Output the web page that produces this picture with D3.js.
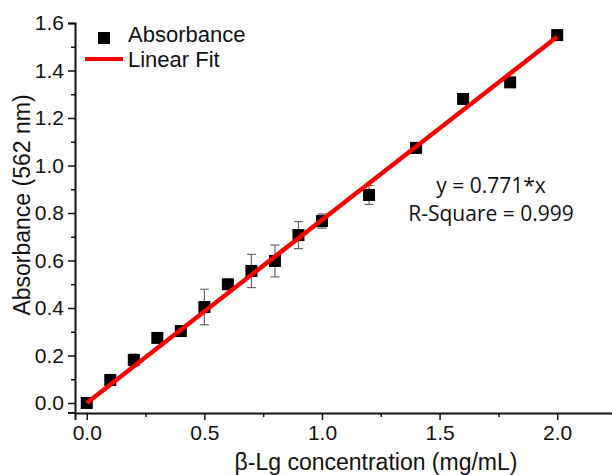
<!DOCTYPE html>
<html>
<head>
<meta charset="utf-8">
<script src="https://cdn.jsdelivr.net/npm/d3@7"></script>
<style>
  body { margin: 0; background: #fff; }
  svg { display: block; }
</style>
</head>
<body>
<div id="chart"></div>
<script>
// concentration (mg/mL)
const conc = [0, 0.1, 0.2, 0.3, 0.4, 0.5, 0.6, 0.7, 0.8, 0.9, 1.0, 1.2, 1.4, 1.6, 1.8, 2.0];
// absorbance at 562 nm
const absorb = [0, 0.097, 0.181, 0.274, 0.303, 0.404, 0.50, 0.556, 0.598, 0.707, 0.766, 0.876, 1.074, 1.28, 1.35, 1.549];
// error (+/-)
const errs = [0, 0, 0.025, 0, 0, 0.075, 0, 0.07, 0.067, 0.057, 0.03, 0.04, 0.02, 0, 0, 0];
const slope = 0.771;
const xTicks = [0, 0.5, 1.0, 1.5, 2.0];
const yTicks = [0, 0.2, 0.4, 0.6, 0.8, 1.0, 1.2, 1.4, 1.6];

const width = 612, height = 475;
const font = "'Liberation Sans', Arial, sans-serif";

const svg = d3.select("#chart").append("svg")
    .attr("width", width)
    .attr("height", height);

const x = d3.scaleLinear([-0.05, 2.25], [75, 616]);
const y = d3.scaleLinear([-0.04, 1.6], [412.5, 23]);

// x axis
svg.append("g")
    .attr("transform", "translate(0,413)")
    .call(d3.axisBottom(x).tickValues(xTicks).tickFormat(d3.format(".1f")).tickSize(7).tickPadding(5));
svg.append("g")
    .attr("transform", "translate(0,413)")
    .call(d3.axisBottom(x).tickValues([0.25, 0.75, 1.25, 1.75]).tickFormat("").tickSize(4))
    .call(g => g.select(".domain").remove());

// y axis
svg.append("g")
    .attr("transform", "translate(75,0)")
    .call(d3.axisLeft(y).tickValues(yTicks).tickFormat(d3.format(".1f")).tickSize(7).tickPadding(4));
svg.append("g")
    .attr("transform", "translate(75,0)")
    .call(d3.axisLeft(y).tickValues(d3.range(0.1, 1.6, 0.2)).tickFormat("").tickSize(4))
    .call(g => g.select(".domain").remove());

svg.selectAll(".domain").attr("stroke", "#111").attr("stroke-width", 2);
svg.selectAll(".tick line").attr("stroke", "#111").attr("stroke-width", 1.5);
svg.selectAll(".tick text")
    .attr("fill", "#111")
    .style("font-family", font)
    .style("font-size", "21px");

// axis titles
svg.append("text")
    .attr("x", 376).attr("y", 470)
    .attr("text-anchor", "middle")
    .style("font-family", font).style("font-size", "23px")
    .attr("fill", "#111")
    .text("β-Lg concentration (mg/mL)");

svg.append("text")
    .attr("transform", "translate(30,205) rotate(-90)")
    .attr("text-anchor", "middle")
    .style("font-family", font).style("font-size", "23px")
    .attr("fill", "#111")
    .text("Absorbance (562 nm)");

const data = conc.map((c, i) => ({ c, a: absorb[i], e: errs[i] }));

// error bars
const eb = svg.append("g")
    .attr("stroke", "#666")
    .attr("stroke-width", 1.2)
    .selectAll("g")
    .data(data.filter(d => d.e > 0))
    .join("g");
eb.append("line")
    .attr("x1", d => x(d.c)).attr("x2", d => x(d.c))
    .attr("y1", d => y(d.a - d.e)).attr("y2", d => y(d.a + d.e));
eb.append("line")
    .attr("x1", d => x(d.c) - 4.5).attr("x2", d => x(d.c) + 4.5)
    .attr("y1", d => y(d.a + d.e)).attr("y2", d => y(d.a + d.e));
eb.append("line")
    .attr("x1", d => x(d.c) - 4.5).attr("x2", d => x(d.c) + 4.5)
    .attr("y1", d => y(d.a - d.e)).attr("y2", d => y(d.a - d.e));

// squares
const sq = 12;
svg.append("g")
    .selectAll("rect")
    .data(data)
    .join("rect")
    .attr("x", d => x(d.c) - sq / 2)
    .attr("y", d => y(d.a) - sq / 2)
    .attr("width", sq).attr("height", sq)
    .attr("fill", "#000");

// linear fit
const fitX = [0, 2.0];
svg.append("line")
    .attr("x1", x(fitX[0])).attr("y1", y(slope * fitX[0]))
    .attr("x2", x(fitX[1])).attr("y2", y(slope * fitX[1]))
    .attr("stroke", "#ff0000")
    .attr("stroke-width", 4.5);

// legend
const legend = svg.append("g").style("font-family", font).style("font-size", "22px").attr("fill", "#111");
legend.append("rect").attr("x", 98).attr("y", 32).attr("width", sq).attr("height", sq).attr("fill", "#000");
legend.append("text").attr("x", 128).attr("y", 42).text("Absorbance");
legend.append("line").attr("x1", 85).attr("x2", 123).attr("y1", 59).attr("y2", 59)
    .attr("stroke", "#ff0000").attr("stroke-width", 4);
legend.append("text").attr("x", 128).attr("y", 67).text("Linear Fit");

// fit annotation
const ann = svg.append("g")
    .style("font-family", "'Open Sans', sans-serif")
    .style("font-size", "21px")
    .attr("fill", "#111")
    .attr("text-anchor", "middle");
ann.append("text").attr("x", 491).attr("y", 193).text(`y = ${slope}*x`);
ann.append("text").attr("x", 491).attr("y", 221).text("R-Square = 0.999");
</script>
</body>
</html>
